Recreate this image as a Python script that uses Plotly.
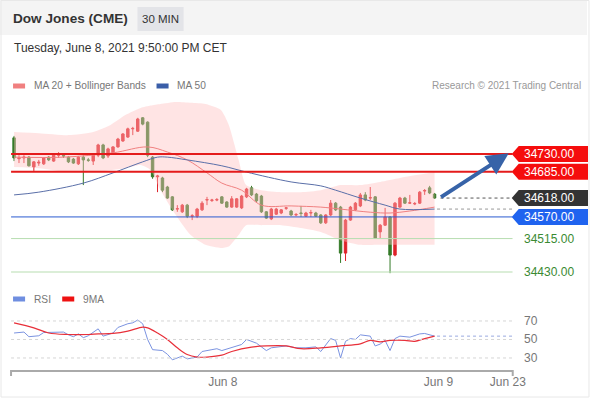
import plotly.graph_objects as go

# ---------------- data ----------------
opens = [34771,34718,34720,34722,34697,34707,34705,34722,34712,34727,34726,34722,34717,34705,34722,34715,34712,34727,34753,34725,
         34733,34748,34763,34773,34794,34788,34822,34811,34722,34672,34669,34646,34621,34590,34583,34600,34572,34572,34588,34613,
         34612,34613,34621,34608,34595,34595,34593,34621,34644,34628,34623,34583,34565,34577,34580,34592,34585,34575,34580,34572,
         34580,34580,34575,34555,34575,34605,34595,34478,34562,34588,34598,34626,34618,34621,34532,34549,34570,34473,34595,34618,
         34605,34603,34605,34636,34644,34628]
highs = [34776,34727,34727,34725,34712,34715,34722,34725,34732,34735,34732,34725,34720,34725,34727,34720,34730,34756,34756,34746,
         34750,34771,34783,34797,34799,34822,34824,34813,34725,34677,34672,34649,34623,34600,34603,34603,34577,34593,34610,34621,
         34616,34618,34623,34610,34623,34618,34626,34644,34649,34631,34626,34585,34593,34593,34590,34595,34588,34580,34598,34583,
         34588,34583,34577,34577,34613,34608,34598,34565,34598,34608,34631,34633,34646,34623,34552,34593,34572,34608,34621,34621,
         34626,34608,34636,34641,34649,34631]
lows = [34712,34707,34707,34698,34687,34700,34702,34712,34710,34720,34720,34707,34705,34702,34651,34710,34702,34722,34717,34720,
        34730,34746,34761,34771,34778,34786,34803,34722,34667,34633,34633,34616,34585,34583,34580,34567,34562,34567,34585,34600,
        34608,34610,34603,34593,34593,34593,34590,34618,34623,34608,34580,34565,34562,34575,34577,34588,34572,34572,34570,34570,
        34570,34570,34552,34552,34572,34585,34453,34458,34560,34585,34595,34610,34613,34514,34516,34547,34427,34470,34593,34603,
        34603,34600,34603,34626,34628,34616]
closes = [34720,34720,34722,34700,34710,34709,34720,34715,34727,34728,34725,34710,34707,34722,34715,34714,34727,34753,34720,34743,
          34748,34768,34781,34794,34795,34819,34806,34727,34672,34674,34638,34618,34588,34591,34600,34572,34573,34590,34605,34614,
          34613,34614,34605,34595,34616,34616,34623,34641,34626,34611,34583,34567,34590,34590,34588,34593,34575,34576,34579,34580,
          34581,34572,34555,34575,34605,34588,34478,34562,34595,34605,34626,34613,34619,34516,34549,34570,34473,34605,34618,34605,
          34606,34604,34633,34637,34631,34618]
bar_idx = list(range(len(closes)))

# moving averages / bands (bar index, price)
ma20_idx = [0, 10, 20, 27, 31, 35, 39, 42, 46, 50, 56, 62, 66, 72, 76, 80, 85]
ma20_val = [34722, 34722, 34733, 34748, 34735, 34715, 34682, 34656, 34638, 34600, 34598, 34595, 34590, 34582, 34580, 34585, 34595]
ma50_idx = [0, 5, 14, 20, 26, 29, 31, 35, 42, 47, 56, 62, 65, 70, 75, 78, 85]
ma50_val = [34626, 34633, 34656, 34682, 34710, 34722, 34722, 34715, 34700, 34684, 34659, 34649, 34638, 34618, 34600, 34590, 34590]
bb_idx = [0, 5, 11, 16, 19.5, 22.5, 25.6, 27.6, 29.6, 32.7, 35.7, 38.7, 41.8, 43.4, 45.4, 46.9, 50, 54, 58, 62, 66, 70, 74, 78, 85]
bb_up = [34786, 34783, 34778, 34786, 34804, 34829, 34847, 34853, 34857, 34862, 34860, 34857, 34842, 34804, 34715, 34651,
         34638, 34633, 34633, 34638, 34651, 34651, 34659, 34669, 34684]
bb_lo = [34697, 34694, 34684, 34684, 34689, 34694, 34702, 34689, 34638, 34575, 34524, 34499, 34491, 34495, 34524, 34549,
         34549, 34549, 34542, 34532, 34511, 34499, 34499, 34499, 34499]

rsi_idx = [0, 2, 3, 5, 6, 8, 10, 11, 12, 13, 14, 15, 17, 18, 20, 21, 23, 24, 25, 26, 27, 28, 30, 31, 32, 34, 35, 37, 38, 40,
           41, 42, 44, 46, 47, 49, 50, 51, 52, 55, 57, 59, 61, 62, 64, 65, 66, 67, 68, 69, 70, 72, 73, 74, 75, 76, 77, 78, 80,
           82, 83, 84, 85]
rsi_val = [57, 58, 53, 54, 57.5, 58, 58, 55, 53, 56, 52, 54, 61.5, 53.6, 57, 63, 67, 68, 71, 67, 50, 39, 38, 34, 28, 32, 29,
           31, 37, 39, 40, 38, 41.7, 44.6, 50, 46, 42, 38, 41, 43, 41, 41, 42, 37, 51, 49, 30, 48, 51, 50, 55, 53.6, 43, 45, 49,
           38, 51, 53.6, 52.5, 56, 56.5, 55, 53.6]
ma9_idx = [0, 4, 7, 11, 15, 17, 20, 23, 26, 27, 29, 31, 33, 35, 37, 39, 42, 44, 48, 51, 55, 58, 62, 66, 70, 72, 74, 76, 79,
           81, 83, 85]
ma9_val = [68, 62.6, 57, 55.4, 55.4, 56, 56.5, 59, 63.3, 62.6, 57, 50, 41, 33.8, 31, 31, 33, 37, 41.7, 43, 43, 40, 41, 43,
           45.3, 49, 47.5, 49, 49, 48, 51, 53.6]

level_prices = [34730, 34685, 34618, 34570, 34515, 34430]
level_texts = ["34730.00", "34685.00", "34618.00", "34570.00", "34515.00", "34430.00"]
rsi_levels = [70, 50, 30]
tick_pos = [42.2, 85.8, 99.8]
tick_text = ["Jun 8", "Jun 9", "Jun 23"]
arrow_start = (86, 34618)
arrow_end = (100, 34732)

# ---------------- styling ----------------
RED_C = "#de2229"
GREEN_C = "#347a28"
FONT = "Liberation Sans, Arial, sans-serif"
W, H = 590, 400          # design space (target picture)
FIG_W = 605              # page width that shows up as 590 in the photograph


def px(x):
    return x / W


def py(y):
    return 1 - y / H


fig = go.Figure()

# Bollinger band
fig.add_trace(go.Scatter(x=bb_idx, y=bb_up, mode="lines", line=dict(width=0, shape="spline", smoothing=0.6),
                         hoverinfo="skip", showlegend=False, xaxis="x", yaxis="y"))
fig.add_trace(go.Scatter(x=bb_idx, y=bb_lo, mode="lines", line=dict(width=0, shape="spline", smoothing=0.6),
                         fill="tonexty", fillcolor="rgba(255,190,190,0.42)",
                         hoverinfo="skip", showlegend=False, xaxis="x", yaxis="y"))
# MAs
fig.add_trace(go.Scatter(x=ma20_idx, y=ma20_val, mode="lines", line=dict(width=1, color="#f08080", shape="spline"),
                         showlegend=False, xaxis="x", yaxis="y"))
fig.add_trace(go.Scatter(x=ma50_idx, y=ma50_val, mode="lines", line=dict(width=1, color="#5a6fa8", shape="spline"),
                         showlegend=False, xaxis="x", yaxis="y"))
# candles
fig.add_trace(go.Candlestick(x=bar_idx, open=opens, high=highs, low=lows, close=closes,
                             increasing=dict(line=dict(color=RED_C, width=1), fillcolor=RED_C),
                             decreasing=dict(line=dict(color=GREEN_C, width=1), fillcolor=GREEN_C),
                             whiskerwidth=0, showlegend=False, xaxis="x", yaxis="y"))
# RSI
fig.add_trace(go.Scatter(x=rsi_idx, y=rsi_val, mode="lines", line=dict(width=1, color="#7b93e0"),
                         showlegend=False, xaxis="x2", yaxis="y2"))
fig.add_trace(go.Scatter(x=ma9_idx, y=ma9_val, mode="lines", line=dict(width=1.2, color="#e8303a", shape="spline"),
                         showlegend=False, xaxis="x2", yaxis="y2"))

XMIN, XMAX = -0.61, 100.8
shapes = []
annotations = []

# container / header
shapes.append(dict(type="rect", xref="paper", yref="paper", x0=px(0), x1=px(585), y0=py(35), y1=py(0),
                   fillcolor="#f4f4f4", line=dict(width=0), layer="below"))
shapes.append(dict(type="rect", xref="paper", yref="paper", x0=px(137), x1=px(183), y0=py(31), y1=py(7),
                   fillcolor="#e3e4e8", line=dict(width=0), layer="below"))
shapes.append(dict(type="rect", xref="paper", yref="paper", x0=px(1), x1=px(587), y0=py(397), y1=py(0.5),
                   fillcolor="rgba(0,0,0,0)", line=dict(width=1, color="#e8e8e8"), layer="below"))

annotations += [
    dict(text="<b>Dow Jones (CME)</b>", x=px(11), y=py(19), xanchor="left", yanchor="middle",
         font=dict(size=13.6, color="#333333", family=FONT)),
    dict(text="30 MIN", x=px(160), y=py(19), xanchor="center", yanchor="middle",
         font=dict(size=11.5, color="#333333", family=FONT)),
    dict(text="Tuesday, June 8, 2021 9:50:00 PM CET", x=px(12), y=py(48), xanchor="left", yanchor="middle",
         font=dict(size=12, color="#333333", family=FONT)),
    dict(text="MA 20 + Bollinger Bands", x=px(32), y=py(86), xanchor="left", yanchor="middle",
         font=dict(size=10.2, color="#777777", family=FONT)),
    dict(text="MA 50", x=px(174), y=py(86), xanchor="left", yanchor="middle",
         font=dict(size=10.2, color="#777777", family=FONT)),
    dict(text="Research © 2021 Trading Central", x=px(581), y=py(86), xanchor="right", yanchor="middle",
         font=dict(size=10, color="#999999", family=FONT)),
    dict(text="RSI", x=px(32), y=py(299), xanchor="left", yanchor="middle",
         font=dict(size=10.2, color="#777777", family=FONT)),
    dict(text="9MA", x=px(81), y=py(299), xanchor="left", yanchor="middle",
         font=dict(size=10.2, color="#777777", family=FONT)),
]
for (x0, x1, y, c) in [(13, 25, 86, "#f08080"), (156, 168, 86, "#3a5ea8"), (13, 25, 299, "#6f8ee0"), (62, 74, 299, "#ee1111")]:
    shapes.append(dict(type="rect", xref="paper", yref="paper", x0=px(x0), x1=px(x1), y0=py(y + 2.5), y1=py(y - 2.5),
                       fillcolor=c, line=dict(width=0)))

# level lines + labels
lvl_style = [
    dict(line="#e41b1b", lw=2, box="#f50d0d", txt="white"),
    dict(line="#e41b1b", lw=2, box="#f50d0d", txt="white"),
    dict(line="#555555", lw=1, box="#333333", txt="white", dot=True),
    dict(line="#2a5bd0", lw=1, box="#1f63ef", txt="white"),
    dict(line="#b7ddb0", lw=1, box=None, txt="#3a8a32"),
    dict(line="#b7ddb0", lw=1, box=None, txt="#3a8a32"),
]
ppu = 118 / 300.0  # pixels per price unit
for p, t, s in zip(level_prices, level_texts, lvl_style):
    if s.get("dot"):
        shapes.append(dict(type="line", xref="x", yref="y", x0=arrow_start[0] + 0.2, x1=XMAX, y0=p, y1=p,
                           line=dict(color=s["line"], width=1, dash="dot")))
    else:
        shapes.append(dict(type="line", xref="x", yref="y", x0=XMIN, x1=XMAX, y0=p, y1=p,
                           line=dict(color=s["line"], width=s["lw"])))
    if s["box"]:
        h = 8 / ppu
        path = (f"M {px(510)},{p} L {px(517)},{p + h} L {px(586)},{p + h} "
                f"L {px(586)},{p - h} L {px(517)},{p - h} Z")
        shapes.append(dict(type="path", xref="paper", yref="y", path=path, fillcolor=s["box"],
                           line=dict(width=0)))
    annotations.append(dict(text=t, xref="paper", yref="y", x=px(520), y=p, xanchor="left", yanchor="middle",
                            showarrow=False, font=dict(size=12, color=s["txt"], family=FONT)))

# MA extension dotted
shapes.append(dict(type="line", xref="x", yref="y", x0=ma50_idx[-1] + 0.5, x1=XMAX, y0=ma50_val[-1], y1=ma50_val[-1],
                   line=dict(color="#999999", width=1, dash="dot")))

# arrow
annotations.append(dict(x=arrow_end[0], y=arrow_end[1], ax=arrow_start[0], ay=arrow_start[1], xref="x", yref="y",
                        axref="x", ayref="y", showarrow=True, arrowhead=2, arrowsize=1.1, arrowwidth=4,
                        arrowcolor="#3763a8", text=""))

# RSI grid & labels
for lv in rsi_levels:
    shapes.append(dict(type="line", xref="x2", yref="y2", x0=XMIN, x1=XMAX, y0=lv, y1=lv,
                       line=dict(color="#d5d5d5", width=1, dash="dot")))
    annotations.append(dict(text=str(lv), xref="paper", yref="y2", x=px(520), y=lv, xanchor="left", yanchor="middle",
                            showarrow=False, font=dict(size=12, color="#777777", family=FONT)))
shapes.append(dict(type="line", xref="x2", yref="y2", x0=rsi_idx[-1] + 0.5, x1=XMAX, y0=rsi_val[-1], y1=rsi_val[-1],
                   line=dict(color="#9aaae0", width=1, dash="dot")))

# x axis end caps
for xx in [11, 511]:
    shapes.append(dict(type="line", xref="paper", yref="paper", x0=px(xx), x1=px(xx), y0=py(370), y1=py(376),
                       line=dict(color="#aaaaaa", width=2)))

for a in annotations:
    a.setdefault("showarrow", False)
    a.setdefault("xref", "paper")
    a.setdefault("yref", "paper")

fig.update_layout(
    width=FIG_W, height=H, autosize=False, margin=dict(l=0, r=0, t=0, b=0),
    paper_bgcolor="white", plot_bgcolor="rgba(0,0,0,0)",
    showlegend=False, hovermode=False,
    font=dict(family=FONT),
    xaxis=dict(domain=[px(11), px(511)], range=[XMIN, XMAX], showticklabels=False, showgrid=False,
               zeroline=False, showline=False, rangeslider=dict(visible=False), anchor="y"),
    yaxis=dict(domain=[py(282), py(100)], range=[34730 - 128 / ppu, 34730 + 54 / ppu], showticklabels=False,
               showgrid=False, zeroline=False, showline=False, anchor="x"),
    xaxis2=dict(domain=[px(11), px(511)], range=[XMIN, XMAX], matches="x", showgrid=False, zeroline=False,
                showline=True, linecolor="#aaaaaa", linewidth=2, tickvals=tick_pos, ticktext=tick_text,
                ticks="", tickfont=dict(size=12, color="#777777", family=FONT), anchor="y2"),
    yaxis2=dict(domain=[py(370), py(307)], range=[17, 85.1], showticklabels=False, showgrid=False,
                zeroline=False, showline=False, anchor="x2"),
    shapes=shapes, annotations=annotations,
)

fig.write_html("out.html", config={"displayModeBar": False, "responsive": False},
               post_script="document.body.style.margin='0';document.body.style.padding='0';"
                           "document.body.style.overflow='hidden';document.documentElement.style.overflow='hidden';")
